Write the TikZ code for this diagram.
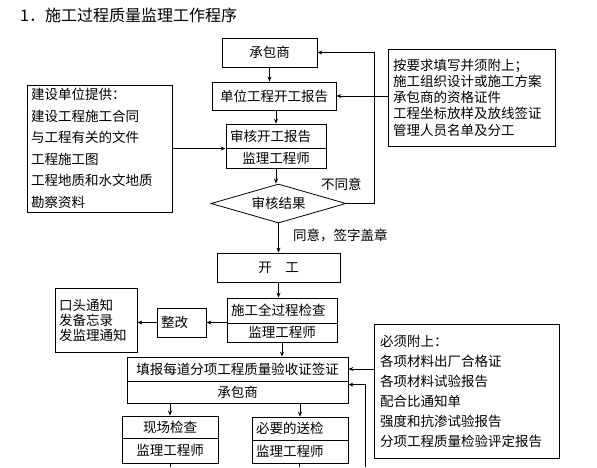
\documentclass[tikz,border=0pt]{standalone}
\usepackage{fontspec}
\setmainfont{Noto Sans CJK SC}
\usetikzlibrary{shapes.geometric,arrows.meta}
\tikzset{box/.style={draw,rectangle,inner sep=0pt,line width=.8pt,font=\fontsize{13.5}{16}\selectfont},
  lbox/.style={box,align=left,inner xsep=4pt,text width=#1},
  arr/.style={-{Stealth[length=5pt,width=4pt]},line width=.8pt},
  lbl/.style={anchor=west,inner sep=0pt,font=\fontsize{13.5}{16}\selectfont}}

\begin{document}
\begin{tikzpicture}[x=1pt,y=-1pt]
\useasboundingbox (0,0) rectangle (597,467);
\node[lbl,font=\fontsize{16}{18}\selectfont] (title) at (20,15) {1．施工过程质量监理工作程序};
\node[box,minimum width=95,minimum height=29] (contractor) at (269.5,52.5) {承包商};
\node[box,minimum width=124,minimum height=28] (startRep) at (274,96) {单位工程开工报告};
\node[lbox=92,minimum height=24] (review) at (276,136) {审核开工报告};
\node[box,minimum width=100,minimum height=20] (reviewEng) at (276,158) {监理工程师};
\node[diamond,draw,aspect=3.5,inner sep=0pt,minimum width=135,minimum height=39,line width=.8pt,font=\fontsize{13.5}{16}\selectfont] (result) at (278.5,203.5) {审核结果};
\node[box,minimum width=123,minimum height=29] (start) at (278.5,267.5) {开\quad 工};
\node[lbox=102,minimum height=25] (inspect) at (282,310.5) {施工全过程检查};
\node[box,minimum width=110,minimum height=19] (inspectEng) at (282,332.5) {监理工程师};
\node[lbox=41,minimum height=29] (rectify) at (181.5,322.5) {整改};
\node[lbox=74,minimum height=64,font=\fontsize{13.5}{15}\selectfont] (notice) at (96,320) {口头通知\\发备忘录\\发监理通知};
\node[box,minimum width=221,minimum height=24] (fill) at (237.5,369) {填报每道分项工程质量验收证签证};
\node[box,minimum width=221,minimum height=22] (fillEng) at (237.5,392) {承包商};
\node[box,minimum width=96,minimum height=22] (site) at (170,427) {现场检查};
\node[box,minimum width=96,minimum height=25] (siteEng) at (170,450.5) {监理工程师};
\node[lbox=88,minimum height=23] (sample) at (300,428.5) {必要的送检};
\node[lbox=88,minimum height=23] (sampleEng) at (300,451.5) {监理工程师};
\node[lbox=137,minimum height=127,font=\fontsize{13.5}{21.5}\selectfont] (supply) at (99.5,148.5) {建设单位提供：\\建设工程施工合同\\与工程有关的文件\\工程施工图\\工程地质和水文地质\\勘察资料};
\node[lbox=157,inner xsep=5pt,minimum height=97,font=\fontsize{13.5}{16.25}\selectfont] (require) at (471.5,97.5) {按要求填写并须附上；\\施工组织设计或施工方案\\承包商的资格证件\\工程坐标放样及放线签证\\管理人员名单及分工};
\node[lbox=173,inner xsep=6pt,minimum height=134,font=\fontsize{13.5}{20}\selectfont] (attach) at (466.5,391) {必须附上：\\各项材料出厂合格证\\各项材料试验报告\\配合比通知单\\强度和抗渗试验报告\\分项工程质量检验评定报告};
\node[lbl] (disagree) at (321,184) {不同意};
\node[lbl] (agree) at (293,235) {同意，签字盖章};
\coordinate (loopin) at (365,467);
\coordinate (siteOut) at (170,467);
\coordinate (sampleOut) at (299,467);

\draw[arr] (contractor) -- (contractor |- startRep.north);
\draw[arr] (review |- startRep.south) -- (review.north);
\draw[arr] (reviewEng.south) -- (reviewEng.south |- result.north);
\draw[arr] (result.east) -- ++(28,0) |- (contractor.east);
\draw[arr] (require.west |- startRep) -- (startRep.east);
\draw[arr] (supply.east) -- (supply.east -| review.west);
\draw[arr] (result.south) -- (start.north);
\draw[arr] (start.south) -- (start.south |- inspect.north);
\draw[arr] (rectify.east -| inspect.west) -- (rectify.east);
\draw[arr] (rectify.west) -- (rectify.west -| notice.east);
\draw[arr] (inspectEng.south) -- (inspectEng.south |- fill.north);
\draw[arr] (attach.west |- fill) -- (fill.east);
\draw[arr] (loopin) |- ([yshift=-4pt]fillEng.north east);
\draw[arr] (site.north |- fillEng.south) -- (site.north);
\draw[arr] (sample.north |- fillEng.south) -- (sample.north);
\draw[line width=.8pt] (siteEng.south) -- (siteOut);
\draw[line width=.8pt] (sampleEng.south -| sampleOut) -- (sampleOut);
\end{tikzpicture}
\end{document}
